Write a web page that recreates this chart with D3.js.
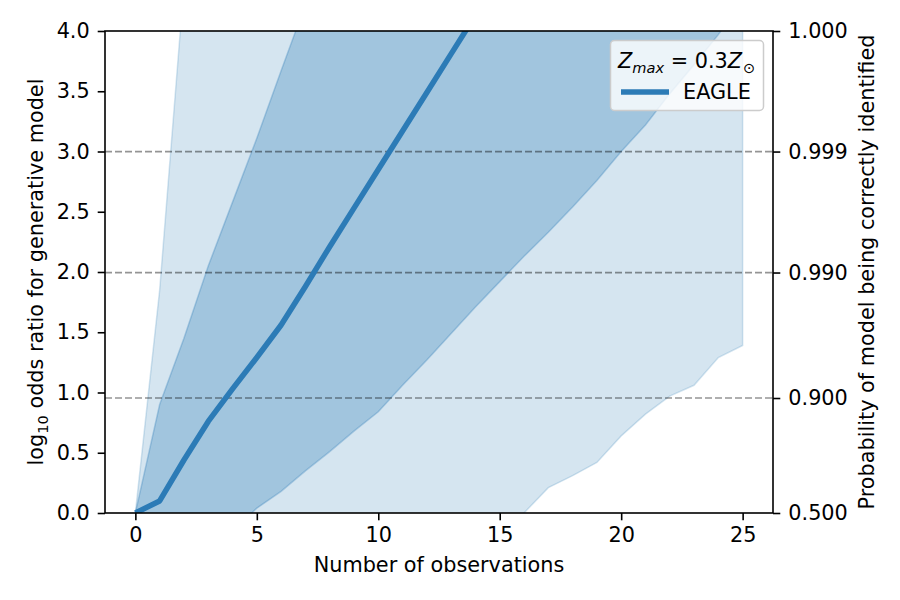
<html>
<head>
<meta charset="UTF-8">
<title>odds ratio</title>
<script src="https://d3js.org/d3.v7.min.js"></script>
<style>html,body{margin:0;padding:0;background:#fff;}</style>
</head>
<body>
<div id="container"></div>
<script>
const nObs = [0, 1, 2, 3, 4, 5, 6, 7, 8, 9, 10, 11, 12, 13, 14, 15, 16, 17, 18, 19, 20, 21, 22, 23, 24, 25]
const median = [0, 0.10, 0.44, 0.76, 1.03, 1.29, 1.56, 1.88, 2.21, 2.53, 2.85, 3.17, 3.49, 3.81, 4.13, 4.45, 4.76, 5.07, 5.38, 5.68, 5.98, 6.27, 6.56, 6.84, 7.12, 7.40]
const innerUpper = [0, 0.90, 1.45, 2.05, 2.58, 3.11, 3.67, 4.22, 4.75, 5.3, 5.8, 6.3, 6.8, 7.3, 7.8, 8.3, 8.8, 9.3, 9.8, 10.3, 10.8, 11.3, 11.8, 12.3, 12.8, 13.3]
const innerLower = [0, -0.55, -0.45, -0.30, -0.15, 0.04, 0.18, 0.35, 0.51, 0.68, 0.84, 1.06, 1.27, 1.49, 1.71, 1.92, 2.13, 2.33, 2.54, 2.76, 3.00, 3.22, 3.48, 3.72, 3.97, 4.25]
const outerUpper = [0, 1.85, 4.38, 5.6, 6.6, 7.5, 8.4, 9.2, 10, 10.8, 11.6, 12.4, 13.2, 14, 14.8, 15.6, 16.4, 17.2, 18, 18.8, 19.6, 20.4, 21.2, 22, 22.8, 23.6]
const outerLower = [0, -1.2, -1.5, -1.6, -1.6, -1.55, -1.5, -1.4, -1.3, -1.2, -1.05, -0.9, -0.75, -0.6, -0.42, -0.25, 0.0, 0.21, 0.31, 0.42, 0.64, 0.82, 0.97, 1.06, 1.29, 1.39]

const xTicks = [0, 5, 10, 15, 20, 25]
const yTicks = [0, 0.5, 1.0, 1.5, 2.0, 2.5, 3.0, 3.5, 4.0]
const probTicks = [0.5, 0.9, 0.99, 0.999, 0.9999]
const probLines = [0.9, 0.99, 0.999]

const width = 900, height = 600
const plot = { left: 105, right: 773, top: 31, bottom: 513 }
const blue = '#2c7bb6'
const font = 'DejaVu Sans'
const fs = 20.8

const svg = d3.select('#container').append('svg')
    .attr('width', width)
    .attr('height', height)
    .style('font-family', font)

const x = d3.scaleLinear().domain([-1.25, 26.25]).range([plot.left, plot.right])
const y = d3.scaleLinear().domain([0, 4]).range([plot.bottom, plot.top])
const logOdds = p => Math.log10(p / (1 - p))

svg.append('clipPath').attr('id', 'clip')
    .append('rect')
    .attr('x', plot.left).attr('y', plot.top)
    .attr('width', plot.right - plot.left).attr('height', plot.bottom - plot.top)

const g = svg.append('g').attr('clip-path', 'url(#clip)')

const band = (lo, hi) => d3.area()
    .x((d, i) => x(nObs[i]))
    .y0((d, i) => y(lo[i]))
    .y1((d, i) => y(hi[i]))(nObs)

// bands
g.append('path')
    .attr('d', band(outerLower, outerUpper))
    .attr('fill', blue).attr('fill-opacity', 0.2)
    .attr('stroke', blue).attr('stroke-opacity', 0.2).attr('stroke-width', 1.5)
g.append('path')
    .attr('d', band(innerLower, innerUpper))
    .attr('fill', blue).attr('fill-opacity', 0.3)
    .attr('stroke', blue).attr('stroke-opacity', 0.3).attr('stroke-width', 1.5)

// probability guide lines
g.selectAll('.hline').data(probLines).enter().append('line')
    .attr('x1', plot.left).attr('x2', plot.right)
    .attr('y1', d => y(logOdds(d))).attr('y2', d => y(logOdds(d)))
    .attr('stroke', '#000').attr('stroke-opacity', 0.42)
    .attr('stroke-width', 1.7).attr('stroke-dasharray', '7,3')

// median line
g.append('path')
    .attr('d', d3.line().x((d, i) => x(nObs[i])).y((d, i) => y(median[i]))(nObs))
    .attr('fill', 'none').attr('stroke', blue)
    .attr('stroke-width', 5.5).attr('stroke-linejoin', 'round')

// axes
const styleAxis = sel => {
    sel.select('.domain').remove()
    sel.selectAll('.tick line').attr('stroke', '#000').attr('stroke-width', 1.6)
    sel.selectAll('.tick text').attr('fill', '#000').style('font-size', fs + 'px').style('font-family', font)
}
svg.append('g').attr('transform', `translate(0,${plot.bottom})`)
    .call(d3.axisBottom(x).tickValues(xTicks).tickSize(7.3).tickPadding(7).tickFormat(d3.format('d')))
    .call(styleAxis)
svg.append('g').attr('transform', `translate(${plot.left},0)`)
    .call(d3.axisLeft(y).tickValues(yTicks).tickSize(7.3).tickPadding(8).tickFormat(d3.format('.1f')))
    .call(styleAxis)
svg.append('g').attr('transform', `translate(${plot.right},0)`)
    .call(d3.axisRight(y).tickValues(probTicks.map(logOdds)).tickSize(7.3).tickPadding(8)
        .tickFormat((d, i) => d3.format('.3f')(probTicks[i])))
    .call(styleAxis)

svg.append('rect')
    .attr('x', plot.left).attr('y', plot.top)
    .attr('width', plot.right - plot.left).attr('height', plot.bottom - plot.top)
    .attr('fill', 'none').attr('stroke', '#000').attr('stroke-width', 1.6)

// labels
svg.append('text')
    .attr('x', (plot.left + plot.right) / 2).attr('y', 572)
    .attr('text-anchor', 'middle').style('font-size', fs + 'px')
    .text('Number of observations')

const yl = svg.append('text')
    .attr('transform', `translate(43,${(plot.top + plot.bottom) / 2}) rotate(-90)`)
    .attr('text-anchor', 'middle').style('font-size', fs + 'px')
yl.append('tspan').text('log')
yl.append('tspan').attr('dy', 5).style('font-size', '14.6px').text('10')
yl.append('tspan').attr('dy', -5).text(' odds ratio for generative model')

svg.append('text')
    .attr('transform', `translate(874,${(plot.top + plot.bottom) / 2}) rotate(-90)`)
    .attr('text-anchor', 'middle').style('font-size', fs + 'px')
    .text('Probability of model being correctly identified')

// legend
const lg = svg.append('g')
lg.append('rect')
    .attr('x', 610.5).attr('y', 40.5).attr('width', 153).attr('height', 70).attr('rx', 4)
    .attr('fill', '#fff').attr('fill-opacity', 0.8).attr('stroke', '#ccc').attr('stroke-width', 1.5)
const lt = lg.append('text').attr('x', 618).attr('y', 68).style('font-size', fs + 'px')
lt.append('tspan').style('font-style', 'italic').text('Z')
lt.append('tspan').attr('dy', 5).style('font-style', 'italic').style('font-size', '14.6px').text('max')
lt.append('tspan').attr('dy', -5).text(' = 0.3')
lt.append('tspan').style('font-style', 'italic').text('Z')
lt.append('tspan').attr('dy', 5).attr('dx', 1).style('font-size', '14.6px').text('⊙')
lg.append('line')
    .attr('x1', 621).attr('x2', 669).attr('y1', 92).attr('y2', 92)
    .attr('stroke', blue).attr('stroke-width', 5.5)
lg.append('text').attr('x', 683).attr('y', 99).style('font-size', fs + 'px').text('EAGLE')
</script>
</body>
</html>
